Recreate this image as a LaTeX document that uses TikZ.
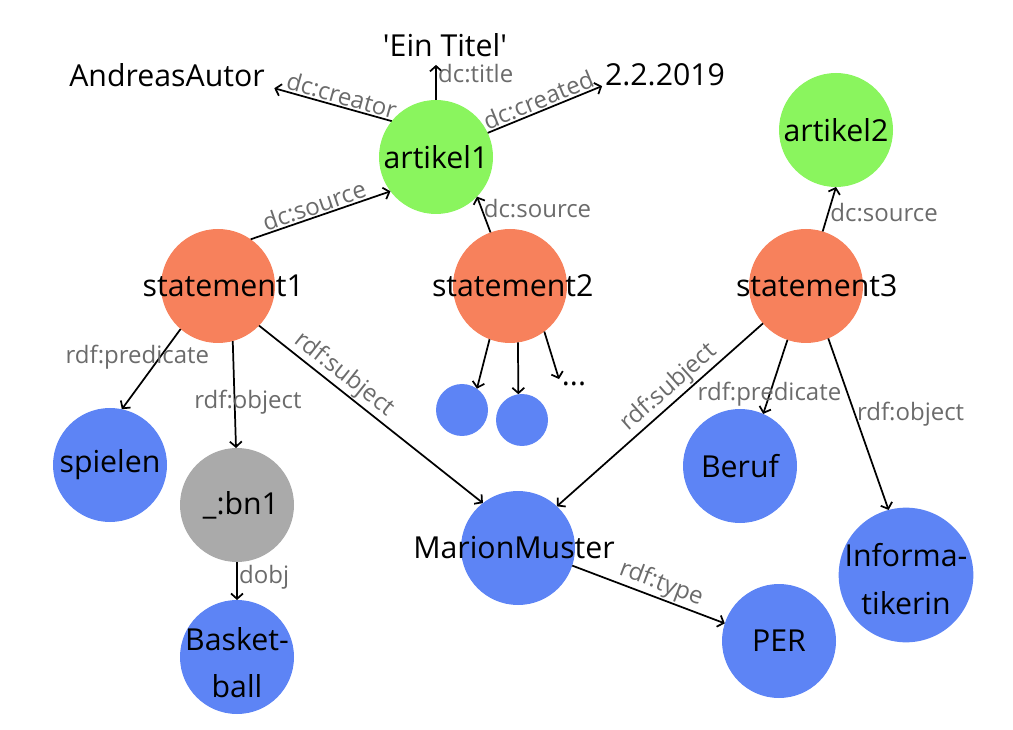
\documentclass[tikz,border=0pt]{standalone}
\usepackage{fontspec}
\setmainfont{Open Sans}
\usepackage{tikz}
\usetikzlibrary{arrows.meta}
\definecolor{artgreen}{HTML}{8AF55E}
\definecolor{stmtorange}{HTML}{F7815C}
\definecolor{entblue}{HTML}{5D84F5}
\definecolor{blankgray}{HTML}{AAAAAA}
\definecolor{edgegray}{HTML}{6B6B6B}

\begin{document}
\begin{tikzpicture}[x=0.75pt,y=-0.75pt,>={Straight Barb[length=4pt,width=9pt]},
   res/.style={circle,inner sep=0pt,outer sep=0pt,minimum size=85.5pt},
   txt/.style={font=\fontsize{22.7}{35.5}\selectfont,align=center,inner sep=0pt},
   lit/.style={font=\fontsize{22.7}{26}\selectfont,inner sep=2pt},
   art/.style={res,fill=artgreen},
   stmt/.style={res,fill=stmtorange},
   ent/.style={res,fill=entblue},
   el/.style={font=\fontsize{18}{21}\selectfont,text=edgegray,inner sep=1pt},
   rel/.style={->,line width=1.3pt}]
  \useasboundingbox (0,0) rectangle (1013,730);
  % articles and literals
  \node[art,label={[txt]center:artikel1}] (a1) at (436,157) {};
  \node[art,label={[txt]center:artikel2}] (a2) at (836,130) {};
  \node[lit] (titel) at (445,45) {\textquotesingle Ein Titel\textquotesingle};
  \node[lit] (autor) at (167,75) {AndreasAutor};
  \node[lit] (datum) at (665,75) {2.2.2019};
  % statements
  \node[stmt,label={[txt,xshift=4pt]center:statement1}] (s1) at (218,286) {};
  \node[stmt,label={[txt,xshift=2pt]center:statement2}] (s2) at (510,286) {};
  \node[stmt,label={[txt,xshift=8pt]center:statement3}] (s3) at (806,286) {};
  % resources
  \node[ent,label={[txt]center:spielen}] (spielen) at (110,465) {};
  \node[res,fill=blankgray,label={[txt,xshift=3pt]center:\_:bn1}] (bn1) at (237,505) {};
  \node[ent,label={[txt,yshift=-4pt]center:{Basket-\\ball}}] (ball) at (237,657) {};
  \node[ent,label={[txt,xshift=-3pt]center:MarionMuster}] (marion) at (518,548) {};
  \node[ent,label={[txt]center:PER}] (per) at (779,641) {};
  \node[ent,label={[txt]center:Beruf}] (beruf) at (740,466) {};
  \node[ent,minimum size=101pt,label={[txt,yshift=-3pt]center:{Informa-\\tikerin}}] (inf) at (906,575) {};
  \node[ent,minimum size=39pt] (x1) at (462,410) {};
  \node[ent,minimum size=39pt] (x2) at (522,420) {};
  \node[lit] (dots) at (574,384) {...};
  % edges
  \draw[rel] (a1.90) -- ([yshift=-4pt]a1.90 |- titel.south) node[el,pos=0.74,right]{dc:title};
  \draw[rel] (a1.141) -- ([xshift=5pt,yshift=1pt]autor.south east) node[el,sloped,above,pos=0.45]{dc:creator};
  \draw[rel] (a1.25) -- (datum.190) node[el,sloped,above,pos=0.48]{dc:created};
  \draw[rel] (s1.55) -- (a1.217) node[el,sloped,above,pos=0.48]{dc:source};
  \draw[rel] (s2.110) -- (a1.-44) node[el,right,pos=0.66]{dc:source};
  \draw[rel] (s3.73) -- (a2.270) node[el,right,pos=0.42]{dc:source};
  \draw[rel] (s1.229) -- (spielen.78) node[el,pos=0.35,xshift=-17pt]{rdf:predicate};
  \draw[rel] (s1.285) -- (bn1.91) node[el,pos=0.57,xshift=10pt]{rdf:object};
  \draw[rel] (s1.316) -- (marion.128) node[el,sloped,above,pos=0.34]{rdf:subject};
  \draw[rel] (s2.249) -- (x1.55);
  \draw[rel] (s2.278) -- (x2.98);
  \draw[rel] (s2.307) -- (dots.north west);
  \draw[rel] (bn1.south) -- (ball.north) node[el,right,pos=0.4]{dobj};
  \draw[rel] (s3.221) -- (marion.47) node[el,sloped,above,pos=0.41]{rdf:subject};
  \draw[rel] (s3.251) -- (beruf.66) node[el,pos=0.74]{rdf:predicate};
  \draw[rel] (s3.293) -- (inf.105) node[el,right,pos=0.44]{rdf:object};
  \draw[rel] (marion.342) -- (per.162) node[el,sloped,above,pos=0.55]{rdf:type};
\end{tikzpicture}
\end{document}
